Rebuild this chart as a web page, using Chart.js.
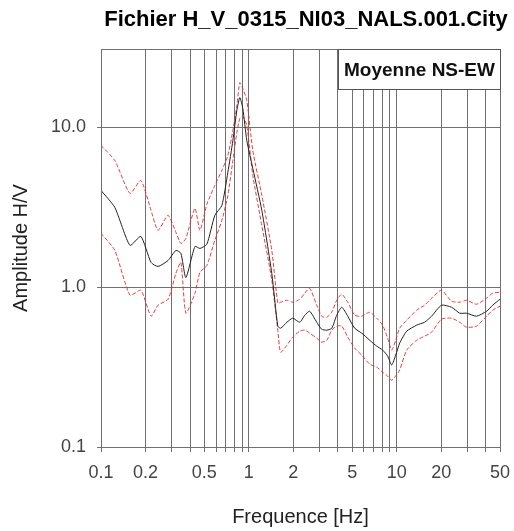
<!DOCTYPE html>
<html>
<head>
<meta charset="utf-8">
<title>Fichier H_V_0315_NI03_NALS.001.City</title>
<script src="https://cdn.jsdelivr.net/npm/chart.js@4.4.1/dist/chart.umd.min.js"></script>
<style>
  html, body { margin: 0; padding: 0; background: #fff; }
  #wrap { width: 514px; height: 531px; }
</style>
</head>
<body>
<div id="wrap"><canvas id="hvChart" width="514" height="531"></canvas></div>
<script>
// H/V spectral ratio, mean of NS and EW components with +/- one std dev
const freq = [0.1, 0.124, 0.157, 0.186, 0.218, 0.243, 0.284, 0.321, 0.347, 0.375,
  0.432, 0.467, 0.52, 0.589, 0.657, 0.721, 0.78, 0.83, 0.869, 0.911,
  0.969, 1.064, 1.224, 1.43, 1.57, 1.64, 1.81, 1.98, 2.21, 2.39,
  2.58, 2.88, 3.11, 3.37, 3.64, 3.93, 4.25, 4.67, 5.2, 5.8,
  6.57, 7.33, 8.04, 8.69, 9.25, 9.85, 10.48, 11.69, 13.65, 15.46,
  17.23, 20.1, 23.5, 26.7, 29.7, 34.7, 40.6, 44.6, 50];

const ampMean = [4.04, 3.16, 1.83, 2.08, 1.43, 1.35, 1.47, 1.70, 1.63, 1.15,
  1.80, 1.75, 1.86, 2.82, 3.25, 5.23, 8.29, 12.8, 15.4, 13.1,
  8.29, 5.54, 3.03, 1.22, 0.571, 0.554, 0.604, 0.640, 0.604, 0.668,
  0.708, 0.604, 0.546, 0.539, 0.554, 0.668, 0.750, 0.659, 0.554, 0.516,
  0.466, 0.428, 0.404, 0.371, 0.326, 0.376, 0.447, 0.531, 0.579, 0.604,
  0.659, 0.772, 0.750, 0.688, 0.688, 0.659, 0.708, 0.772, 0.841];

const ampUpper = [7.72, 6.22, 3.87, 4.66, 3.03, 2.27, 2.82, 2.21, 1.88, 2.02,
  3.12, 2.27, 3.30, 4.34, 5.39, 6.68, 9.58, 13.7, 19.1, 17.5,
  14.8, 7.18, 3.76, 1.70, 0.794, 0.806, 0.829, 0.806, 0.841, 0.917,
  0.986, 0.772, 0.659, 0.649, 0.698, 0.829, 0.904, 0.806, 0.668, 0.659,
  0.698, 0.640, 0.579, 0.480, 0.404, 0.466, 0.554, 0.622, 0.718, 0.772,
  0.854, 0.958, 0.818, 0.806, 0.829, 0.783, 0.854, 0.917, 0.930];

const ampLower = [2.18, 1.70, 0.891, 0.958, 0.659, 0.772, 0.841, 1.22, 1.43, 0.688,
  0.917, 1.24, 1.37, 1.97, 2.62, 3.76, 6.22, 9.31, 11.4, 11.7,
  10.3, 5.01, 2.44, 1.11, 0.539, 0.392, 0.434, 0.487, 0.531, 0.539,
  0.516, 0.480, 0.453, 0.466, 0.539, 0.571, 0.571, 0.487, 0.416, 0.376,
  0.330, 0.316, 0.294, 0.278, 0.262, 0.278, 0.303, 0.404, 0.466, 0.494,
  0.523, 0.631, 0.640, 0.604, 0.562, 0.571, 0.659, 0.718, 0.761];

// grid positions and the labels printed on them
const xGridValues = [0.1, 0.2, 0.3, 0.4, 0.5, 0.6, 0.7, 0.8, 0.9,
  1, 2, 3, 4, 5, 6, 7, 8, 9, 10, 20, 30, 40, 50];
const xTickLabels = ['0.1', '0.2', '0.5', '1', '2', '5', '10', '20', '50'];
const yTickValues = [0.1, 1, 10];
const yTickLabels = ['0.1', '1.0', '10.0'];

const chartTitle = 'Fichier H_V_0315_NI03_NALS.001.City';
const legendText = 'Moyenne NS-EW';

const FONT = "'Liberation Sans', Arial, Helvetica, sans-serif";
const GRID = '#707070';

function toPoints(ys) {
  return freq.map((f, i) => ({ x: f, y: ys[i] }));
}

// frame, title and the boxed legend are drawn by hand
const framePlugin = {
  id: 'frame',
  afterDraw(chart) {
    const { ctx, chartArea: a } = chart;
    ctx.save();
    ctx.strokeStyle = GRID;
    ctx.lineWidth = 1;
    ctx.strokeRect(Math.round(a.left) + 0.5, Math.round(a.top) + 0.5,
      Math.round(a.right - a.left), Math.round(a.bottom - a.top));

    // legend box in upper right corner
    const bw = 162, bh = 40;
    const bx = Math.round(a.right) - bw + 0.5, by = Math.round(a.top) + 0.5;
    ctx.fillStyle = '#fff';
    ctx.fillRect(bx, by, bw, bh);
    ctx.strokeStyle = '#555';
    ctx.strokeRect(bx, by, bw, bh);
    ctx.fillStyle = '#111';
    ctx.font = 'bold 19px ' + FONT;
    ctx.textAlign = 'center';
    ctx.textBaseline = 'middle';
    ctx.fillText(legendText, bx + bw / 2, by + bh / 2 + 1);

    // title
    ctx.font = 'bold 22px ' + FONT;
    ctx.textBaseline = 'alphabetic';
    ctx.fillStyle = '#000';
    ctx.fillText(chartTitle, 306, 26);
    ctx.restore();
  }
};

new Chart(document.getElementById('hvChart'), {
  type: 'line',
  data: {
    datasets: [
      {
        label: 'Moyenne',
        data: toPoints(ampMean),
        borderColor: '#222',
        borderWidth: 1,
        pointRadius: 0,
        tension: 0.2
      },
      {
        label: 'Moyenne + sigma',
        data: toPoints(ampUpper),
        borderColor: 'rgba(225, 40, 40, 0.9)',
        borderWidth: 1,
        borderDash: [4, 2],
        pointRadius: 0,
        tension: 0.2
      },
      {
        label: 'Moyenne - sigma',
        data: toPoints(ampLower),
        borderColor: 'rgba(225, 40, 40, 0.9)',
        borderWidth: 1,
        borderDash: [4, 2],
        pointRadius: 0,
        tension: 0.2
      }
    ]
  },
  options: {
    responsive: false,
    animation: false,
    layout: { padding: { top: 49, right: 14, left: 0, bottom: 0 } },
    plugins: {
      legend: { display: false },
      tooltip: { enabled: false },
      title: { display: false }
    },
    scales: {
      x: {
        type: 'logarithmic',
        min: 0.1,
        max: 50,
        afterBuildTicks: (scale) => { scale.ticks = xGridValues.map(v => ({ value: v })); },
        afterFit: (scale) => {
          scale.height = 84;
          scale.paddingLeft = 0;
          scale.paddingRight = 0;
        },
        grid: { color: GRID, lineWidth: 1, tickLength: 5, drawTicks: true },
        border: { color: GRID },
        ticks: {
          autoSkip: false,
          maxRotation: 0,
          padding: 10,
          color: '#444',
          font: { family: FONT, size: 18 },
          callback: (value) => {
            const s = String(Math.round(value * 10) / 10);
            return xTickLabels.includes(s) ? s : '';
          }
        },
        title: {
          display: true,
          text: 'Frequence [Hz]',
          color: '#222',
          font: { family: FONT, size: 20 },
          padding: { top: 0, bottom: 2 }
        }
      },
      y: {
        type: 'logarithmic',
        min: 0.1,
        max: 31,
        afterBuildTicks: (scale) => { scale.ticks = yTickValues.map(v => ({ value: v })); },
        afterFit: (scale) => {
          scale.width = 101;
          scale.paddingTop = 0;
          scale.paddingBottom = 0;
        },
        grid: { color: GRID, lineWidth: 1, tickLength: 4 },
        border: { color: GRID },
        ticks: {
          padding: 11,
          color: '#444',
          font: { family: FONT, size: 18 },
          callback: (value) => yTickLabels[yTickValues.indexOf(value)]
        },
        title: {
          display: true,
          text: 'Amplitude H/V',
          color: '#222',
          font: { family: FONT, size: 20 },
          padding: { top: 9, bottom: 0 }
        }
      }
    }
  },
  plugins: [framePlugin]
});
</script>
</body>
</html>
